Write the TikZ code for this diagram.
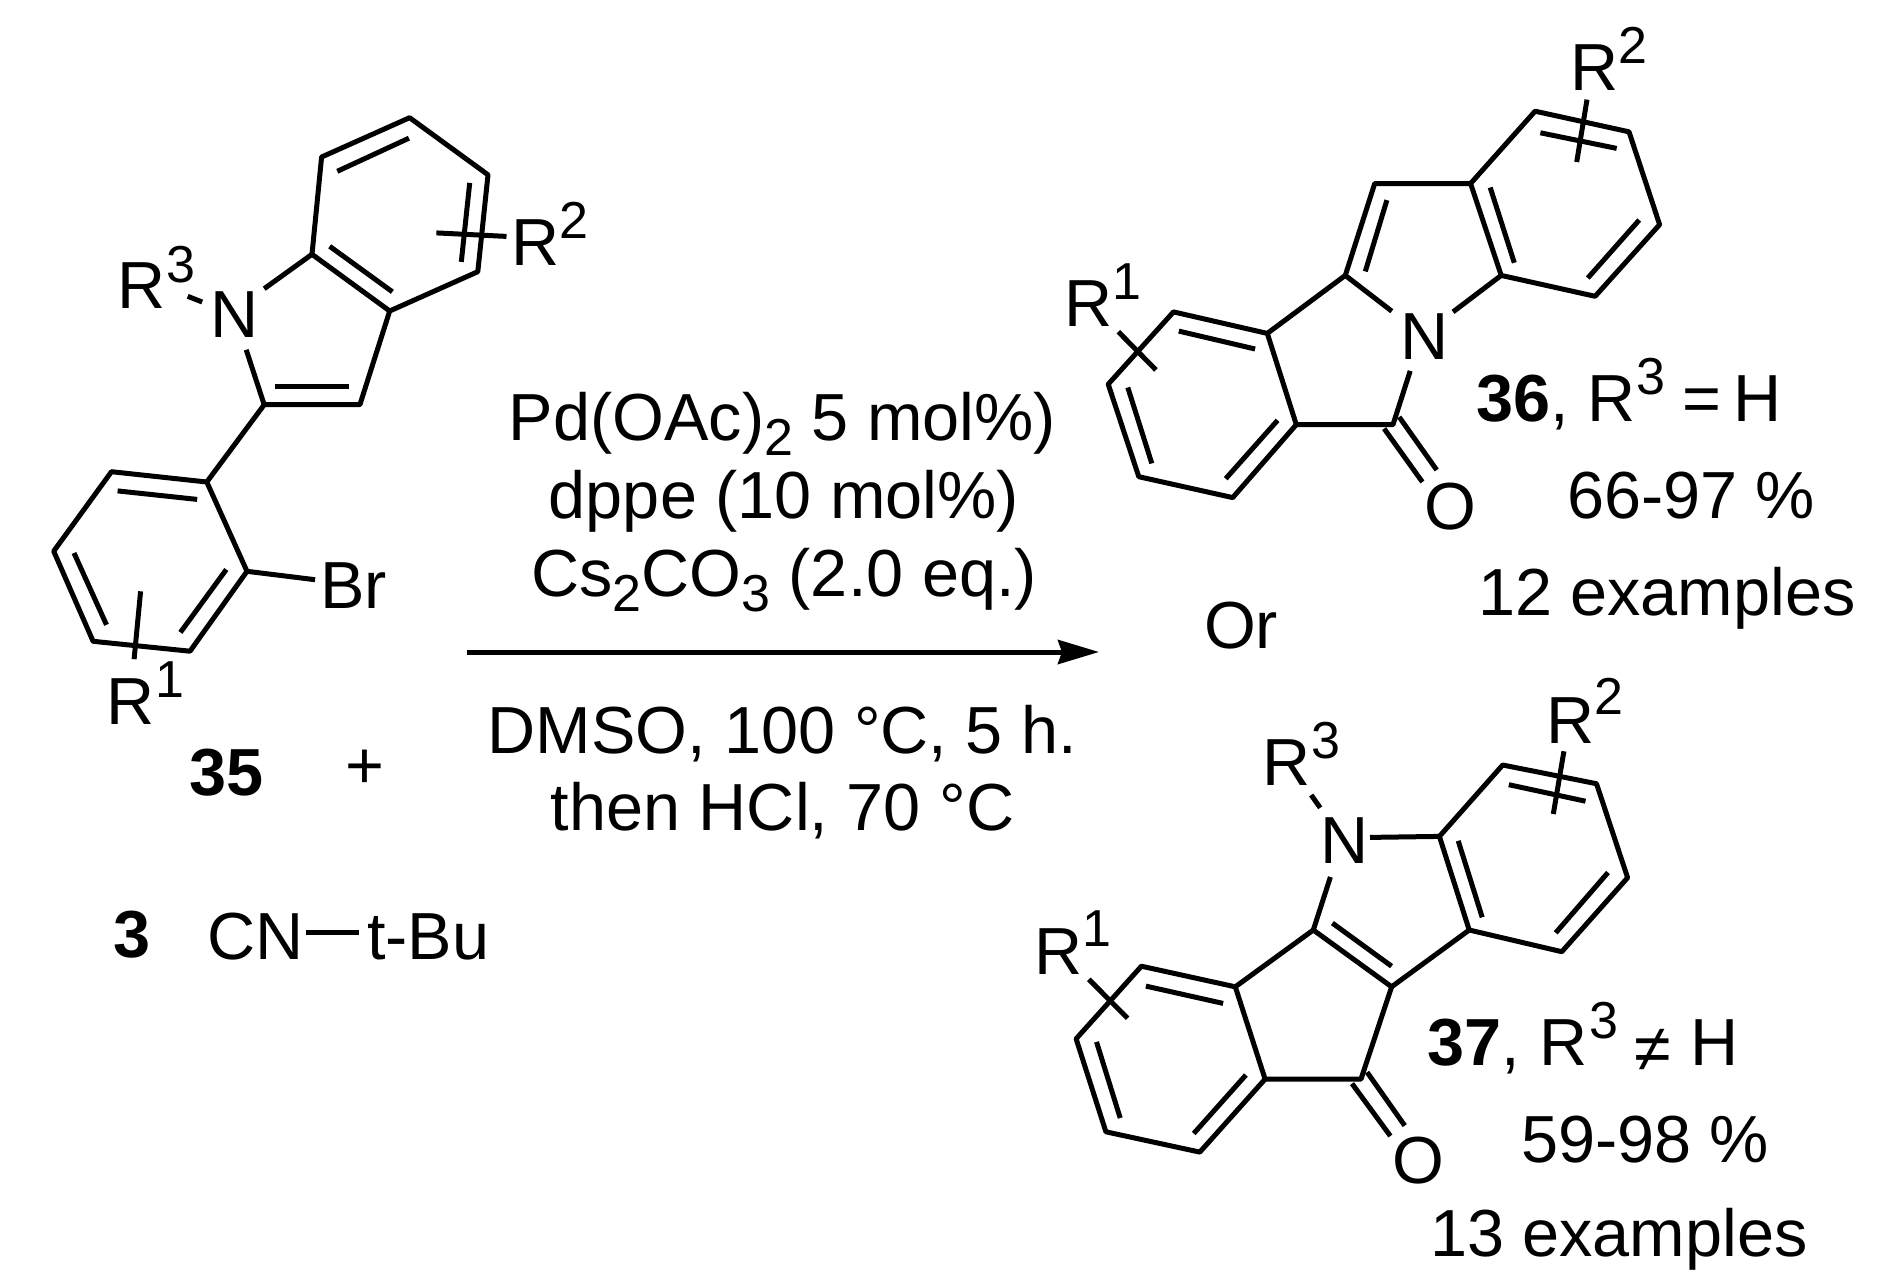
\documentclass[tikz,border=0pt]{standalone}
\usepackage{fontspec}
\setmainfont{Liberation Sans}
\usetikzlibrary{arrows.meta}
\newcommand{\subfig}[1]{\raisebox{-15pt}{\fontsize{52}{52}\selectfont #1}}
\tikzset{
  txt/.style={inner sep=0pt,outer sep=0pt,anchor=base west,font=\fontsize{66.6}{67}\selectfont},
  ctxt/.style={txt,anchor=base},
  sup/.style={txt,font=\fontsize{52}{52}\selectfont},
  bond/.style={draw=black,line width=5pt,line join=round,line cap=butt},
  rxn/.style={draw=black,line width=5pt,-{Stealth[length=41pt,width=24pt,inset=4pt]}}
}
\begin{document}
\begin{tikzpicture}[x=1pt,y=-1pt]
\useasboundingbox (0,0) rectangle (1891,1288);
% ---------- 35 ----------
\coordinate (a1) at (321.6,157); \coordinate (a2) at (409.6,117.7); \coordinate (a3) at (488,174.8);
\coordinate (a4) at (477.8,271.7); \coordinate (a5) at (389.7,311); \coordinate (a6) at (312,254.3);
\coordinate (a7) at (359.9,404.7); \coordinate (a8) at (264.2,404.7);
\coordinate (p1) at (206.8,482); \coordinate (p2) at (111.5,471.7); \coordinate (p3) at (53.7,551.2);
\coordinate (p4) at (93.1,641.3); \coordinate (p5) at (190,651.2); \coordinate (p6) at (247,571.3);
\draw[bond] (a1)--(a2)--(a3)--(a4)--(a5)--(a6)--cycle;
\draw[bond] (a5)--(a7)--(a8)--(246.2,349.8);
\draw[bond] (a6)--(264.2,288.7);
\draw[bond] (a8)--(p1);
\draw[bond] (p1)--(p2)--(p3)--(p4)--(p5)--(p6)--cycle;
\draw[bond] (p6)--(315.1,579.7);
\draw[bond] (337.3,171.3)--(408.9,138.2);
\draw[bond] (469.7,182.9)--(461.3,261.9);
\draw[bond] (329.7,246.3)--(392.4,291.8);
\draw[bond] (274.9,386.4)--(349.2,386.4);
\draw[bond] (117.6,490.9)--(197.2,499.4);
\draw[bond] (74,553)--(106.5,624.8);
\draw[bond] (180.4,632.4)--(226.3,569.5);
\draw[bond] (436.4,232.9)--(506.5,236.4);
\draw[bond] (187.7,296.3)--(202.2,302);
\draw[bond] (140.6,591.3)--(134.1,659.2);
\node[txt] (r3a) at (117,308.7) {R};
\node[sup] (r3as) at (166,282) {3};
\node[txt] (na) at (210,337.8) {N};
\node[txt] (r2a) at (511,265) {R};
\node[sup] (r2as) at (559.5,238) {2};
\node[txt] (bra) at (320,608) {Br};
\node[txt] (r1a) at (106,724) {R};
\node[sup] (r1as) at (155,697) {1};
\node[txt] (n35) at (189,795.7) {\bfseries 35};
\node[txt] (plus) at (345.5,788) {+};
\node[txt] (n3) at (113,957) {\bfseries 3};
\node[txt] (cn) at (207,959) {CN};
\node[txt] (tbu) at (367,959) {t-Bu};
\coordinate (cnb) at (306,932); \coordinate (tbb) at (359,932);
\draw[bond] (cnb)--(tbb);
% ---------- conditions ----------
\node[ctxt] (c1) at (782.5,440) {Pd(OAc)\subfig{2} 5 mol\%)};
\node[ctxt] (c2) at (784,518) {dppe (10 mol\%)};
\node[ctxt] (c3) at (784,596) {Cs\subfig{2}CO\subfig{3} (2.0 eq.)};
\node[ctxt] (c4) at (782.5,753) {DMSO, 100 °C, 5 h.};
\node[ctxt] (c5) at (782.5,830) {then HCl, 70 °C};
\coordinate (arrS) at (467,652); \coordinate (arrE) at (1099,652);
\draw[rxn] (arrS)--(arrE);
\node[txt] (ortxt) at (1204,648) {Or};
% ---------- 36 ----------
\coordinate (b1) at (1535.1,111.2); \coordinate (b2) at (1629,131.8); \coordinate (b3) at (1659.6,224.6);
\coordinate (b4) at (1595.1,296.3); \coordinate (b5) at (1501.2,275.4); \coordinate (b6) at (1470.6,183.5);
\coordinate (b7) at (1374.7,183.5); \coordinate (b8) at (1345.3,275.4);
\coordinate (b9) at (1393,424.6); \coordinate (b10) at (1296.3,424.6); \coordinate (b11) at (1267.3,333.4);
\coordinate (b12) at (1173.5,311.9); \coordinate (b13) at (1108.2,384.2); \coordinate (b14) at (1138.8,476.7);
\coordinate (b15) at (1232.7,497.6);
\draw[bond] (b1)--(b2)--(b3)--(b4)--(b5)--(b6)--cycle;
\draw[bond] (b6)--(b7)--(b8)--(b11);
\draw[bond] (b5)--(1453,311.9);
\draw[bond] (b8)--(1391.8,311.2);
\draw[bond] (1410.2,370.9)--(b9)--(b10);
\draw[bond] (b10)--(b11)--(b12)--(b13)--(b14)--(b15)--cycle;
\draw[bond] (1540.4,132.8)--(1616.7,148.4);
\draw[bond] (1639.2,220)--(1587.8,278);
\draw[bond] (1490.2,187.5)--(1514.3,262.8);
\draw[bond] (1386.9,200.1)--(1365.3,271.4);
\draw[bond] (1178.8,331.1)--(1255.1,349);
\draw[bond] (1127.8,387.5)--(1151.8,463.4);
\draw[bond] (1225.7,478.7)--(1277.6,420.3);
\draw[bond] (1384.1,428.6)--(1422.4,482);
\draw[bond] (1399.2,417)--(1436.7,470);
\draw[bond] (1587,99.6)--(1576.7,162);
\draw[bond] (1118.4,331.8)--(1155.9,369.9);
\node[txt] (nb) at (1400,359) {N};
\node[txt] (ob) at (1424,529) {O};
\node[txt] (r2b) at (1570,90.6) {R};
\node[sup] (r2bs) at (1618.5,63.8) {2};
\node[txt] (r1b) at (1064,326.8) {R};
\node[sup] (r1bs) at (1112.5,299.6) {1};
\node[txt] (n36) at (1476,421) {\bfseries 36\mdseries,};
\node[txt] (r3b) at (1587,421) {R};
\node[sup] (r3bs) at (1636,394) {3};
\node[txt] (eqb) at (1682,421) {=};
\node[txt] (hb) at (1733,421) {H};
\node[txt] (yb) at (1567,518) {66-97 \%};
\node[txt] (exb) at (1478,615) {12 examples};
% ---------- 37 ----------
\coordinate (d1) at (1502.7,765); \coordinate (d2) at (1596.5,783.7); \coordinate (d3) at (1627.6,877.7);
\coordinate (d4) at (1561.8,951.7); \coordinate (d5) at (1469.2,930); \coordinate (d6) at (1439.4,836.4);
\coordinate (d7) at (1313.3,930); \coordinate (d8) at (1391.6,986.8); \coordinate (d9) at (1361,1079.1);
\coordinate (d10) at (1265.1,1079.1); \coordinate (d11) at (1235.3,986.8); \coordinate (d12) at (1141.4,966.2);
\coordinate (d13) at (1076.1,1038.8); \coordinate (d14) at (1105.9,1131.8); \coordinate (d15) at (1199.8,1152.1);
\draw[bond] (d1)--(d2)--(d3)--(d4)--(d5)--(d6)--cycle;
\draw[bond] (d6)--(1370,837.4);
\draw[bond] (1330.4,877)--(d7)--(d8)--(d5);
\draw[bond] (d8)--(d9)--(d10);
\draw[bond] (d7)--(d11);
\draw[bond] (d10)--(d11)--(d12)--(d13)--(d14)--(d15)--cycle;
\draw[bond] (1332.4,923.1)--(1391.6,966.2);
\draw[bond] (1145.9,986.1)--(1223.1,1003.4);
\draw[bond] (1096.5,1041.9)--(1120.2,1118);
\draw[bond] (1193.7,1133.5)--(1245.9,1075);
\draw[bond] (1508.8,784.7)--(1585.5,801.2);
\draw[bond] (1608,872.5)--(1555.7,932.8);
\draw[bond] (1458.2,840.8)--(1482.2,917.3);
\draw[bond] (1352,1083.6)--(1390.4,1136);
\draw[bond] (1367.1,1072.2)--(1404.7,1125.6);
\draw[bond] (1563.9,751.3)--(1553.3,814);
\draw[bond] (1311.2,795)--(1320.2,807.8);
\draw[bond] (1088.8,979.3)--(1127.6,1018.2);
\node[txt] (nd) at (1320,863.2) {N};
\node[txt] (od) at (1392,1183) {O};
\node[txt] (r2d) at (1546,743.4) {R};
\node[sup] (r2ds) at (1594.5,714.8) {2};
\node[txt] (r3d) at (1262,785.4) {R};
\node[sup] (r3ds) at (1311,758.9) {3};
\node[txt] (r1d) at (1034,974) {R};
\node[sup] (r1ds) at (1082.5,946.5) {1};
\node[txt] (n37) at (1427,1065) {\bfseries 37\mdseries,};
\node[txt] (r3e) at (1539,1065) {R};
\node[sup] (r3es) at (1589,1038) {3};
\node[txt] (ned) at (1634,1071) {≠};
\node[txt] (hd) at (1690,1065) {H};
\node[txt] (yd) at (1521,1162) {59-98 \%};
\node[txt] (exd) at (1430,1256) {13 examples};
\end{tikzpicture}
\end{document}
